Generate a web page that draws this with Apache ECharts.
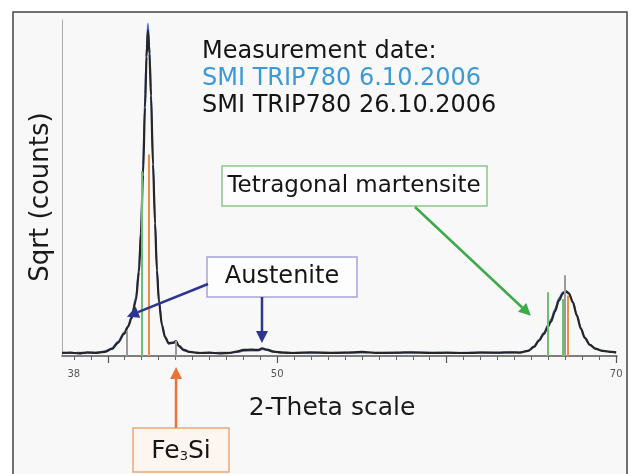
<!DOCTYPE html>
<html>
<head>
<meta charset="utf-8">
<script src="https://cdn.jsdelivr.net/npm/echarts@6/dist/echarts.min.js"></script>
<style>
  html, body { margin: 0; padding: 0; background: #fff; }
  #chart { width: 634px; height: 474px; }
</style>
</head>
<body>
<div id="chart"></div>
<script>
// 2-theta positions (degrees)
const twoTheta = [37.3, 37.8, 38.3, 38.8, 39.3, 39.8, 40.25, 40.6, 40.96, 41.2,
  41.4, 41.66, 41.84, 41.96, 42.08, 42.2, 42.29, 42.37, 42.46, 42.55,
  42.67, 42.79, 42.9, 43.02, 43.2, 43.38, 43.6, 43.85, 44.03, 44.2,
  44.5, 44.85, 45.4, 46.0, 46.6, 47.2, 47.6, 48.0, 48.5, 48.9,
  49.1, 49.4, 49.8, 50.3, 51.0, 52.0, 53.0, 54.0, 55.0, 56.0,
  57.0, 58.0, 59.0, 60.0, 61.0, 62.0, 63.0, 63.8, 64.32, 64.8,
  65.15, 65.44, 65.74, 65.97, 66.15, 66.39, 66.62, 66.86, 67.04, 67.21,
  67.45, 67.68, 67.92, 68.15, 68.45, 68.8, 69.2, 69.75, 70.0];

// SMI TRIP780 6.10.2006
const sqrtCounts0610 = [1.1, 0.9, 1.0, 0.9, 1.1, 1.4, 2.4, 4.3, 7.0, 9.0,
  11.8, 17.5, 26.5, 38.5, 57.0, 78.0, 92.0, 99.0, 92.5, 80.0,
  59.0, 41.0, 26.5, 16.8, 9.4, 5.8, 3.6, 3.8, 4.1, 2.8,
  1.6, 1.1, 1.0, 0.9, 1.0, 1.0, 1.1, 1.5, 1.6, 1.6,
  2.0, 1.7, 1.2, 1.1, 1.0, 0.9, 1.1, 1.0, 1.0, 1.1,
  0.9, 1.0, 1.1, 0.9, 1.0, 1.1, 0.9, 1.0, 1.1, 1.6,
  2.9, 4.8, 7.0, 9.2, 10.9, 14.0, 17.2, 19.0, 19.4, 18.8,
  16.2, 12.3, 8.4, 5.6, 3.4, 2.2, 1.6, 1.2, 1.0];

// SMI TRIP780 26.10.2006
const sqrtCounts2610 = [0.9, 1.0, 0.8, 1.1, 0.9, 1.2, 2.1, 3.9, 6.6, 8.7,
  11.2, 16.5, 25.0, 36.5, 54.0, 74.0, 89.0, 97.0, 90.0, 77.5,
  57.0, 39.5, 25.5, 16.2, 9.1, 5.6, 3.8, 4.0, 4.4, 3.0,
  1.8, 1.2, 0.9, 1.0, 0.8, 0.9, 1.3, 1.8, 1.9, 1.8,
  2.3, 1.9, 1.3, 1.0, 0.9, 1.1, 0.9, 1.0, 1.2, 0.9,
  1.0, 1.1, 0.9, 1.0, 0.9, 1.0, 1.0, 1.1, 1.0, 1.5,
  2.7, 4.5, 6.6, 8.7, 10.2, 13.2, 16.5, 18.6, 19.2, 18.6,
  15.9, 12.0, 8.1, 5.4, 3.3, 2.1, 1.5, 1.2, 1.1];

// phase reference lines: position, height, phase
const phaseLineX = [41.1, 42.0, 42.43, 44.0, 65.97, 66.86, 66.95, 67.15];
const phaseLineTop = [7.5, 55, 60, 4.5, 19, 17, 24, 18];
const phaseLineKind = ['aust', 'ferrite', 'fe3si', 'aust', 'ferrite', 'ferrite', 'aust', 'fe3si'];

const majorTicks = [40, 50, 60, 70];
const tickLabels = [38, 50, 70];

const legendLines = ['Measurement date:', 'SMI TRIP780 6.10.2006', 'SMI TRIP780 26.10.2006'];
const legendColors = ['#151515', '#3a9ad6', '#151515'];

// annotation arrow targets in data coords
const austeniteTips = [[41.13, 11.7], [49.1, 3.9]];
const martensiteTip = [64.97, 12];
const fe3siTip = [44.03, -3.3];

const minorTicks = [];
for (let v = 38; v <= 70; v++) if (majorTicks.indexOf(v) < 0) minorTicks.push(v);

const kindColor = { aust: '#9a9a9a', ferrite: '#6cc070', fe3si: '#e8904a' };
const font = 'DejaVu Sans';

const chart = echarts.init(document.getElementById('chart'));

const xBase = { type: 'value', min: 37.3, max: 70.05, position: 'bottom', splitLine: { show: false } };

chart.setOption({
  animation: false,
  backgroundColor: '#fff',
  grid: { left: 62, right: 17, top: 20, bottom: 118 },
  xAxis: [
    Object.assign({}, xBase, {
      axisLine: { lineStyle: { color: '#555', width: 1.5 } },
      axisTick: { customValues: majorTicks, length: 7, lineStyle: { color: '#555', width: 1.2 } },
      axisLabel: { customValues: tickLabels, fontSize: 10, color: '#555', margin: 13, fontFamily: font }
    }),
    Object.assign({}, xBase, {
      axisLine: { show: false },
      axisTick: { customValues: minorTicks, length: 4, lineStyle: { color: '#666', width: 1 } },
      axisLabel: { show: false }
    })
  ],
  yAxis: {
    type: 'value', min: 0, max: 100,
    axisLine: { show: true, lineStyle: { color: '#aaa', width: 1 } },
    axisTick: { show: false }, axisLabel: { show: false }, splitLine: { show: false }
  },
  series: [
    {
      name: 'SMI TRIP780 6.10.2006', type: 'line', showSymbol: false,
      smooth: 0.3, smoothMonotone: 'x', z: 3,
      lineStyle: { color: '#4b6fc4', width: 1.6 },
      data: twoTheta.map((x, i) => [x, sqrtCounts0610[i]])
    },
    {
      name: 'SMI TRIP780 26.10.2006', type: 'line', showSymbol: false,
      smooth: 0.3, smoothMonotone: 'x', z: 4,
      lineStyle: { color: '#262626', width: 2.2 },
      data: twoTheta.map((x, i) => [x, sqrtCounts2610[i]]),
      markLine: {
        silent: true, symbol: 'none', label: { show: false },
        data: phaseLineX.map((x, i) => [
          { coord: [x, 0], lineStyle: { color: kindColor[phaseLineKind[i]], width: 2, type: 'solid' } },
          { coord: [x, phaseLineTop[i]] }
        ])
      }
    }
  ]
});

function px(p) { return chart.convertToPixel({ gridIndex: 0 }, p); }

function arrow(x1, y1, x2, y2, color, w) {
  const a = Math.atan2(y2 - y1, x2 - x1), L = 12, H = 6;
  const bx = x2 - L * Math.cos(a), by = y2 - L * Math.sin(a);
  return [
    { type: 'line', z: 50, shape: { x1: x1, y1: y1, x2: bx, y2: by }, style: { stroke: color, lineWidth: w } },
    { type: 'polygon', z: 50, shape: { points: [[x2, y2], [bx + H * Math.sin(a), by - H * Math.cos(a)], [bx - H * Math.sin(a), by + H * Math.cos(a)]] }, style: { fill: color } }
  ];
}

function box(x, y, w, h, stroke, fill) {
  return { type: 'rect', z: 40, shape: { x: x, y: y, width: w, height: h }, style: { fill: fill, stroke: stroke, lineWidth: 1.5 } };
}

function label(text, x, y, size, color, align, extra) {
  return Object.assign({ type: 'text', z: 60, x: x, y: y,
    style: { text: text, fontSize: size, fontFamily: font, fill: color, align: align || 'center', verticalAlign: 'middle' } }, extra || {});
}

const a1 = px(austeniteTips[0]), a2 = px(austeniteTips[1]);
const mt = px(martensiteTip), ft = px(fe3siTip);

const graphics = [
  { type: 'rect', z: -10, silent: true, shape: { x: 13, y: 12, width: 614, height: 480 },
    style: { fill: '#f8f8f8', stroke: '#444', lineWidth: 1.5 } },
  label('Sqrt (counts)', 41, 197, 26, '#1a1a1a', 'center', { rotation: Math.PI / 2 }),
  label('2-Theta scale', 332, 408, 25, '#1a1a1a'),
  label(legendLines[0], 202, 52, 24, legendColors[0], 'left'),
  label(legendLines[1], 202, 79, 24, legendColors[1], 'left'),
  label(legendLines[2], 202, 106, 24, legendColors[2], 'left'),

  box(222, 166, 265, 40, '#8cc48c', '#fdfdfd'),
  label('Tetragonal martensite', 354, 186, 23, '#151515'),
  box(207, 257, 150, 40, '#a4a4dc', '#fdfdfd'),
  label('Austenite', 282, 277, 24, '#151515'),
  box(133, 428, 96, 44, '#e8a878', '#fdf6f0'),
  { type: 'text', z: 60, x: 181, y: 451,
    style: { text: '{m|Fe}{s|3}{m|Si}', align: 'center', verticalAlign: 'middle',
      rich: { m: { fontSize: 25, fontFamily: font, fill: '#151515', color: '#151515' },
              s: { fontSize: 13, fontFamily: font, fill: '#151515', color: '#151515', padding: [12, 0, 0, 0] } } } }
]
  .concat(arrow(415, 207, mt[0], mt[1], '#3daa4a', 2.5))
  .concat(arrow(208, 284, a1[0], a1[1], '#2c3590', 2.5))
  .concat(arrow(262, 297, a2[0], a2[1], '#2c3590', 2.5))
  .concat(arrow(176, 428, ft[0], ft[1], '#e8743b', 2.5));

chart.setOption({ graphic: graphics });
</script>
</body>
</html>
